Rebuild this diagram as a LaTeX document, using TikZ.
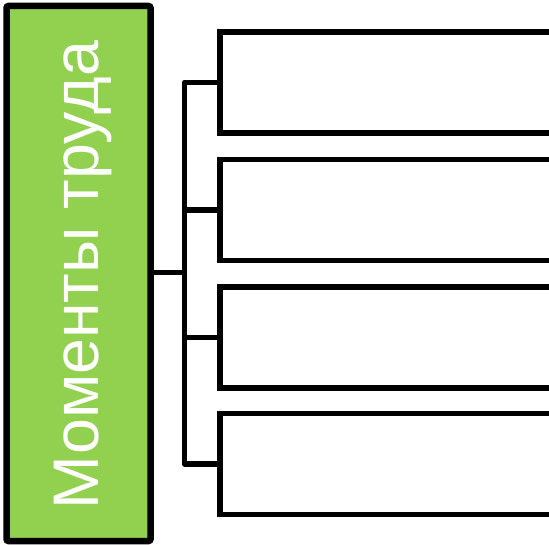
\documentclass[tikz,border=0pt]{standalone}
\usepackage{fontspec}
\setmainfont{Liberation Sans}
\usetikzlibrary{positioning}
\definecolor{leafgreen}{HTML}{92D050}
\tikzset{%
  main box/.style={draw=black, fill=leafgreen, line width=6.5pt, rounded corners=2pt,
    minimum width=144pt, minimum height=535pt, inner sep=0pt},
  item box/.style={draw=black, fill=white, line width=5.5pt,
    minimum width=334pt, minimum height=101pt, inner sep=0pt, anchor=west},
  link/.style={line width=5.5pt, line join=round}
}
\begin{document}
\begin{tikzpicture}[x=1pt, y=-1pt]
    \useasboundingbox (0,0) rectangle (549,545);
    \node[main box] (main) at (78.5, 273.5) {};
    \node[rotate=90, text=white, font=\fontsize{64.5}{78}\selectfont, inner sep=0pt] (title) at ([xshift=5pt, yshift=-1.5pt]main.center) {Моменты труда};
    
    \node[item box] (box1) at (217, 82.5) {};
    \node[item box] (box2) at (217, 210) {};
    \node[item box] (box3) at (217, 337.5) {};
    \node[item box] (box4) at (217, 464) {};
    
    \coordinate (hub) at (184.5, 272.5);
    \draw[link] (main.east |- hub) -- (hub);
    \draw[link] (box1.west) -| (hub) |- (box4.west);
    \draw[link] (box2.west) -- (box2.west -| hub);
    \draw[link] (box3.west) -- (box3.west -| hub);
\end{tikzpicture}
\end{document}
